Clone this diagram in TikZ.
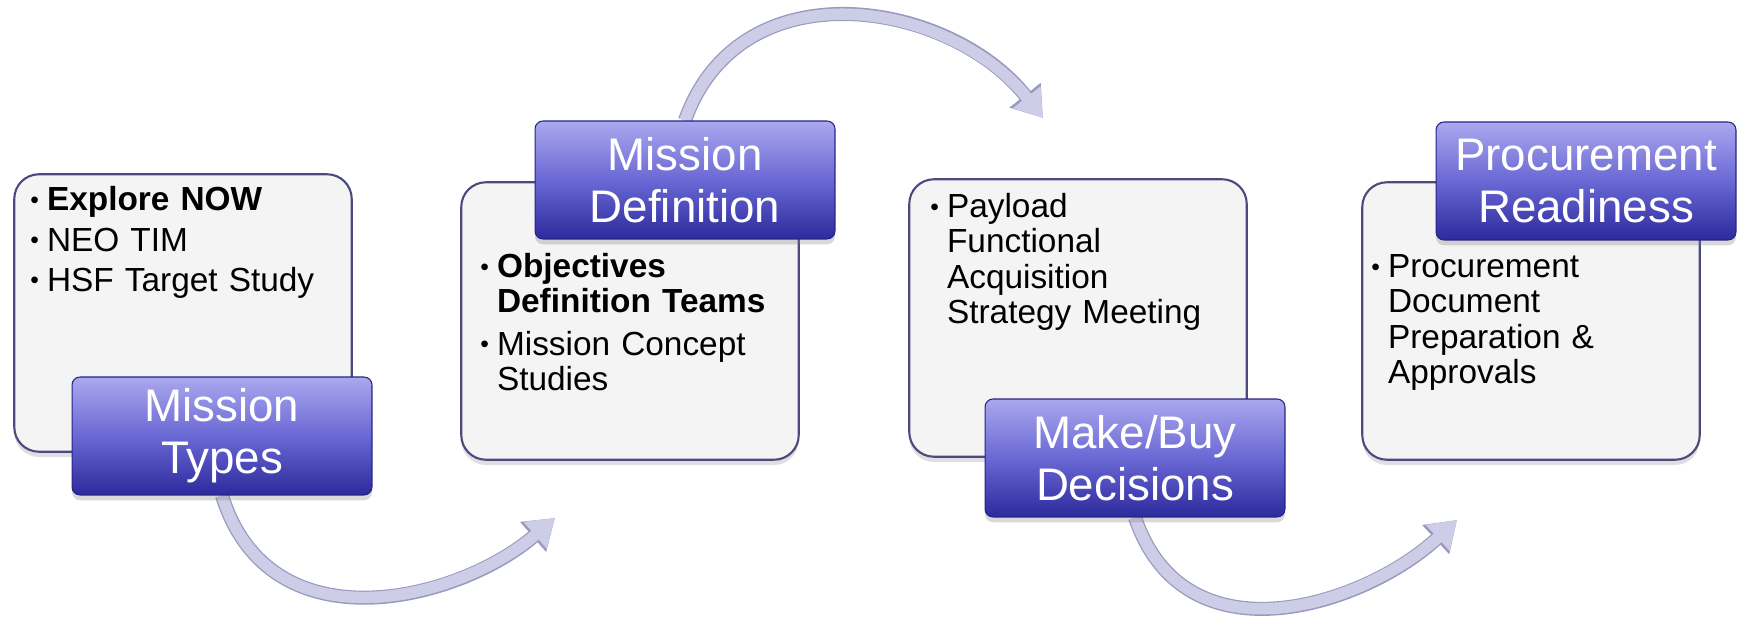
\documentclass[tikz,border=0pt]{standalone}
\usepackage{fontspec}
\setmainfont{Liberation Sans}
\usetikzlibrary{arrows.meta,shadows,backgrounds}

\definecolor{cardline}{HTML}{4A4A7E}
\definecolor{cardfill}{HTML}{F4F4F4}
\definecolor{tagtop}{HTML}{AAA8EE}
\definecolor{tagmid}{HTML}{6A68D4}
\definecolor{tagbot}{HTML}{2C2A9C}
\definecolor{tubefill}{HTML}{CDCDE8}
\definecolor{tubeline}{HTML}{9A9AC0}

% bullet and its text block
\newcommand{\bitem}[1]{\par\noindent\makebox[9.5pt][l]{\raisebox{1.5pt}{\fontsize{14}{14}\selectfont\textbullet}}%
  \parbox[t]{5.8cm}{\raggedright\strut #1\strut}}

\tikzset{
  card/.style={draw=cardline, line width=1.2pt, fill=cardfill, rounded corners=14pt,
    minimum width=6.75cm, minimum height=5.55cm,
    drop shadow={opacity=0.25, shadow xshift=0pt, shadow yshift=-3pt}},
  tag/.style={draw=tagbot!85!black, line width=0.6pt, rounded corners=4.5pt,
    top color=tagtop, bottom color=tagbot, middle color=tagmid,
    minimum width=6cm, minimum height=2.36cm, text=white, align=center,
    font=\fontsize{26}{29.6}\selectfont,
    drop shadow={opacity=0.3, shadow xshift=0pt, shadow yshift=-3pt}},
  txt/.style={anchor=north west, inner sep=0pt, text width=6.3cm, align=left,
    font=\fontsize{19}{20}\selectfont\setlength{\parskip}{3pt}},
  tube/.style={tubefill, line width=6.5pt, -{Triangle[length=15pt,width=19pt]},
    preaction={draw, tubeline, line width=8pt, -{Triangle[length=16.5pt,width=21.5pt]}}}
}

\begin{document}
\begin{tikzpicture}[x=0.02cm, y=-0.02cm]
\useasboundingbox (0,0) rectangle (1741,621);

% cards
\node[card] (b1) at (183,313) {};
\node[card] (b2) at (630,321) {};
\node[card] (b3) at (1078,318) {};
\node[card] (b4) at (1531,321) {};

\node[txt] (t1) at (30,170) {\bitem{\textbf{Explore NOW}}\bitem{NEO TIM}\bitem{HSF Target Study}};
\node[txt] (t2) at (480,237) {\bitem{\textbf{Objectives\\Definition Teams}}\bitem{Mission Concept\\Studies}};
\node[txt] (t3) at (930,177) {\bitem{Payload\\Functional\\Acquisition\\Strategy Meeting}};
\node[txt] (t4) at (1371,237) {\bitem{Procurement\\Document\\Preparation \&\\Approvals}};

% phase tags
\node[tag] (p1) at (222,436) {Mission\\Types};
\node[tag] (p2) at (685,180) {Mission\\Definition};
\node[tag] (p3) at (1135,458) {Make/Buy\\Decisions};
\node[tag] (p4) at (1586,181) {Procurement\\Readiness};

\coordinate (e1) at (555,518);
\coordinate (e2) at (1043,118);
\coordinate (e3) at (1457,520);

\begin{scope}[on background layer]
\draw[tube] (p1.south) .. controls (270,650) and (460,600) .. (e1);
\draw[tube] (p2.north) .. controls (740,-35) and (950,0) .. (e2);
\draw[tube] (p3.south) .. controls (1185,665) and (1365,605) .. (e3);
\end{scope}
\end{tikzpicture}
\end{document}
